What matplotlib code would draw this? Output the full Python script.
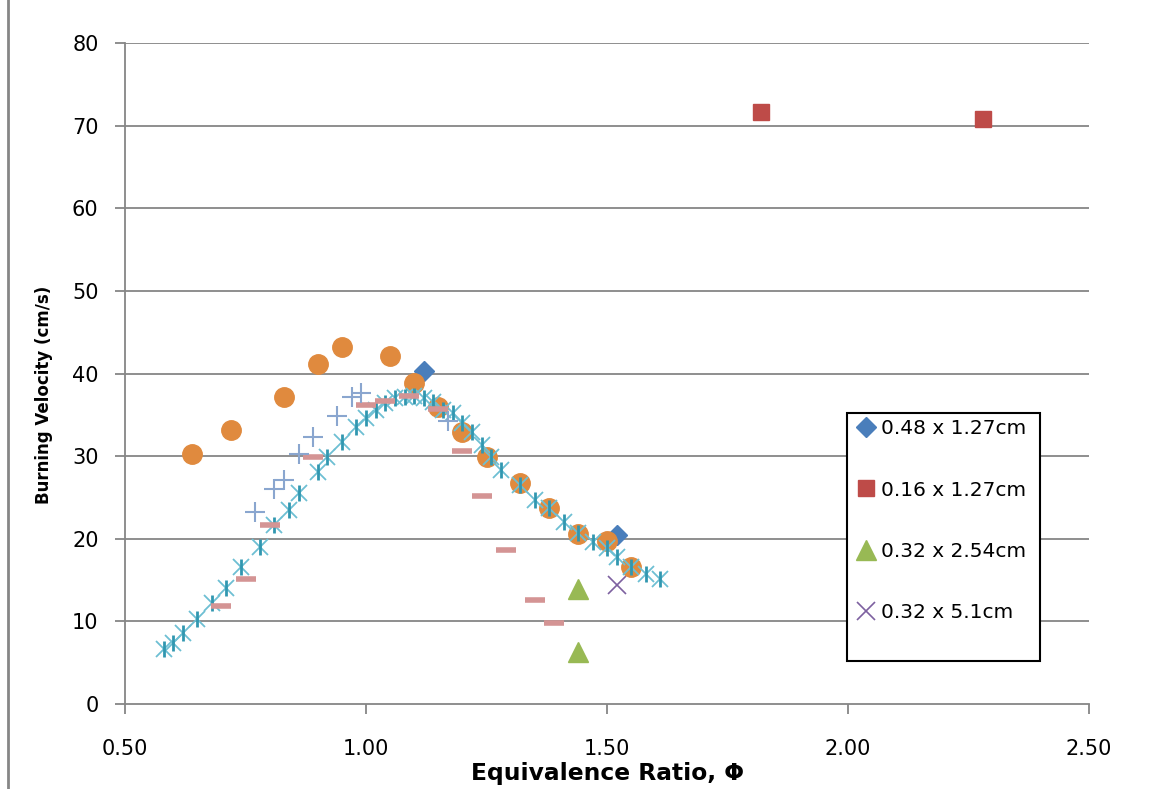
import matplotlib
matplotlib.use("Agg")
import matplotlib.pyplot as plt
from matplotlib.lines import Line2D
from matplotlib.patches import Rectangle

plt.rcParams['font.family'] = ['DejaVu Sans']

# legend series
d48_x = [1.12, 1.52]
d48_y = [40.3, 20.5]
d16_x = [1.82, 2.28]
d16_y = [71.6, 70.8]
d32a_x = [1.44, 1.44]
d32a_y = [13.9, 6.3]
d32b_x = [1.52]
d32b_y = [14.4]

# other data sets
orange_x = [0.64, 0.72, 0.83, 0.90, 0.95, 1.05, 1.10, 1.15, 1.20, 1.25, 1.32, 1.38, 1.44, 1.50, 1.55]
orange_y = [30.3, 33.2, 37.2, 41.2, 43.2, 42.1, 38.9, 35.9, 32.9, 29.9, 26.8, 23.7, 20.6, 19.7, 16.6]

cyan_x = [0.58, 0.60, 0.62, 0.65, 0.68, 0.71, 0.74, 0.78, 0.81, 0.84, 0.86, 0.90, 0.92, 0.95,
          0.98, 1.00, 1.02, 1.04, 1.06, 1.08, 1.10, 1.12, 1.14, 1.16, 1.18, 1.20, 1.22, 1.24,
          1.26, 1.28, 1.32, 1.35, 1.38, 1.41, 1.44, 1.47, 1.50, 1.52, 1.55, 1.58, 1.61]
cyan_y = [6.7, 7.4, 8.6, 10.3, 12.2, 14.0, 16.6, 19.0, 21.7, 23.5, 25.5, 28.1, 29.9, 31.7,
          33.5, 34.6, 35.6, 36.4, 37.0, 37.2, 37.3, 37.0, 36.5, 35.6, 35.2, 34.0, 32.9, 31.4,
          29.9, 28.3, 26.5, 24.7, 23.7, 22.0, 20.7, 19.6, 18.9, 17.8, 16.6, 15.7, 15.1]

pink_x = [0.70, 0.75, 0.80, 0.89, 1.00, 1.04, 1.09, 1.15, 1.20, 1.24, 1.29, 1.35, 1.39]
pink_y = [11.9, 15.1, 21.7, 29.9, 36.2, 36.7, 37.3, 35.7, 30.6, 25.2, 18.6, 12.6, 9.8]

plus_x = [0.77, 0.81, 0.83, 0.86, 0.89, 0.94, 0.97, 0.99, 1.17]
plus_y = [23.2, 26.0, 27.1, 30.3, 32.3, 34.9, 37.2, 37.6, 34.2]

xticks = [0.5, 1.0, 1.5, 2.0, 2.5]

fig = plt.figure(figsize=(11.5, 7.89), dpi=100)
ax = fig.add_axes([0.1087, 0.1077, 0.8383, 0.8378])

grid_c = '#868686'
for v in range(10, 90, 10):
    ax.axhline(v, color=grid_c, lw=1.3, zorder=0)

ax.plot(d48_x, d48_y, 'D', color='#4a7ebb', ms=10, ls='none', label='0.48 x 1.27cm', zorder=3)
ax.plot(d16_x, d16_y, 's', color='#be4b48', ms=12, ls='none', label='0.16 x 1.27cm', zorder=3)
ax.plot(d32a_x, d32a_y, '^', color='#98b954', ms=14, ls='none', label='0.32 x 2.54cm', zorder=3)
ax.plot(d32b_x, d32b_y, 'x', color='#7d60a0', ms=13, mew=1.2, ls='none', label='0.32 x 5.1cm', zorder=3)

ax.plot(orange_x, orange_y, 'o', color='#e08a3e', ms=14, ls='none', zorder=4)
ax.plot(cyan_x, cyan_y, 'x', color='#6dbfd3', ms=12, mew=1.3, ls='none', zorder=5)
ax.plot(cyan_x, cyan_y, '|', color='#3197b0', ms=12, mew=2, ls='none', zorder=5)
ax.plot(pink_x, pink_y, '_', color='#d49494', ms=15, mew=4, ls='none', zorder=6)
ax.plot(plus_x, plus_y, '+', color='#8aa6cf', ms=14, mew=1.5, ls='none', zorder=6)

ax.set_xlim(0.5, 2.5)
ax.set_ylim(0, 80)
ax.set_xticks(xticks)
ax.set_xticklabels(['%.2f' % t for t in xticks])
ax.set_yticks(range(0, 90, 10))

for s in ['top', 'right']:
    ax.spines[s].set_visible(False)
for s in ['left', 'bottom']:
    ax.spines[s].set_color(grid_c)
    ax.spines[s].set_linewidth(1.3)
ax.tick_params(direction='out', length=7, width=1.3, color=grid_c, labelsize=15)
ax.tick_params(axis='x', pad=18)
ax.tick_params(axis='y', pad=12)

ax.set_xlabel('Equivalence Ratio, Φ', fontsize=16.8, fontweight='bold')
ax.set_ylabel('Burning Velocity (cm/s)', fontsize=12, fontweight='bold')
ax.xaxis.set_label_coords(0.5, -0.087)
ax.yaxis.set_label_coords(-0.075, 0.467)

# legend box like the reference (extra space at the bottom)
ax.add_patch(Rectangle((0.749, 0.065), 0.2, 0.375, transform=ax.transAxes, fill=True,
                       facecolor='white', edgecolor='black', lw=1.5, zorder=7, clip_on=False))
leg = ax.legend(loc='upper left', bbox_to_anchor=(0.753, 0.44), fontsize=14.5,
                frameon=False, labelspacing=2.1, handlelength=0.9, handletextpad=0.3,
                borderpad=0.3, borderaxespad=0)
leg.set_zorder(8)

fig.add_artist(Line2D([8 / 1150, 8 / 1150], [0, 1], color='#868686', lw=2, transform=fig.transFigure))

fig.savefig('out.png', dpi=100)
